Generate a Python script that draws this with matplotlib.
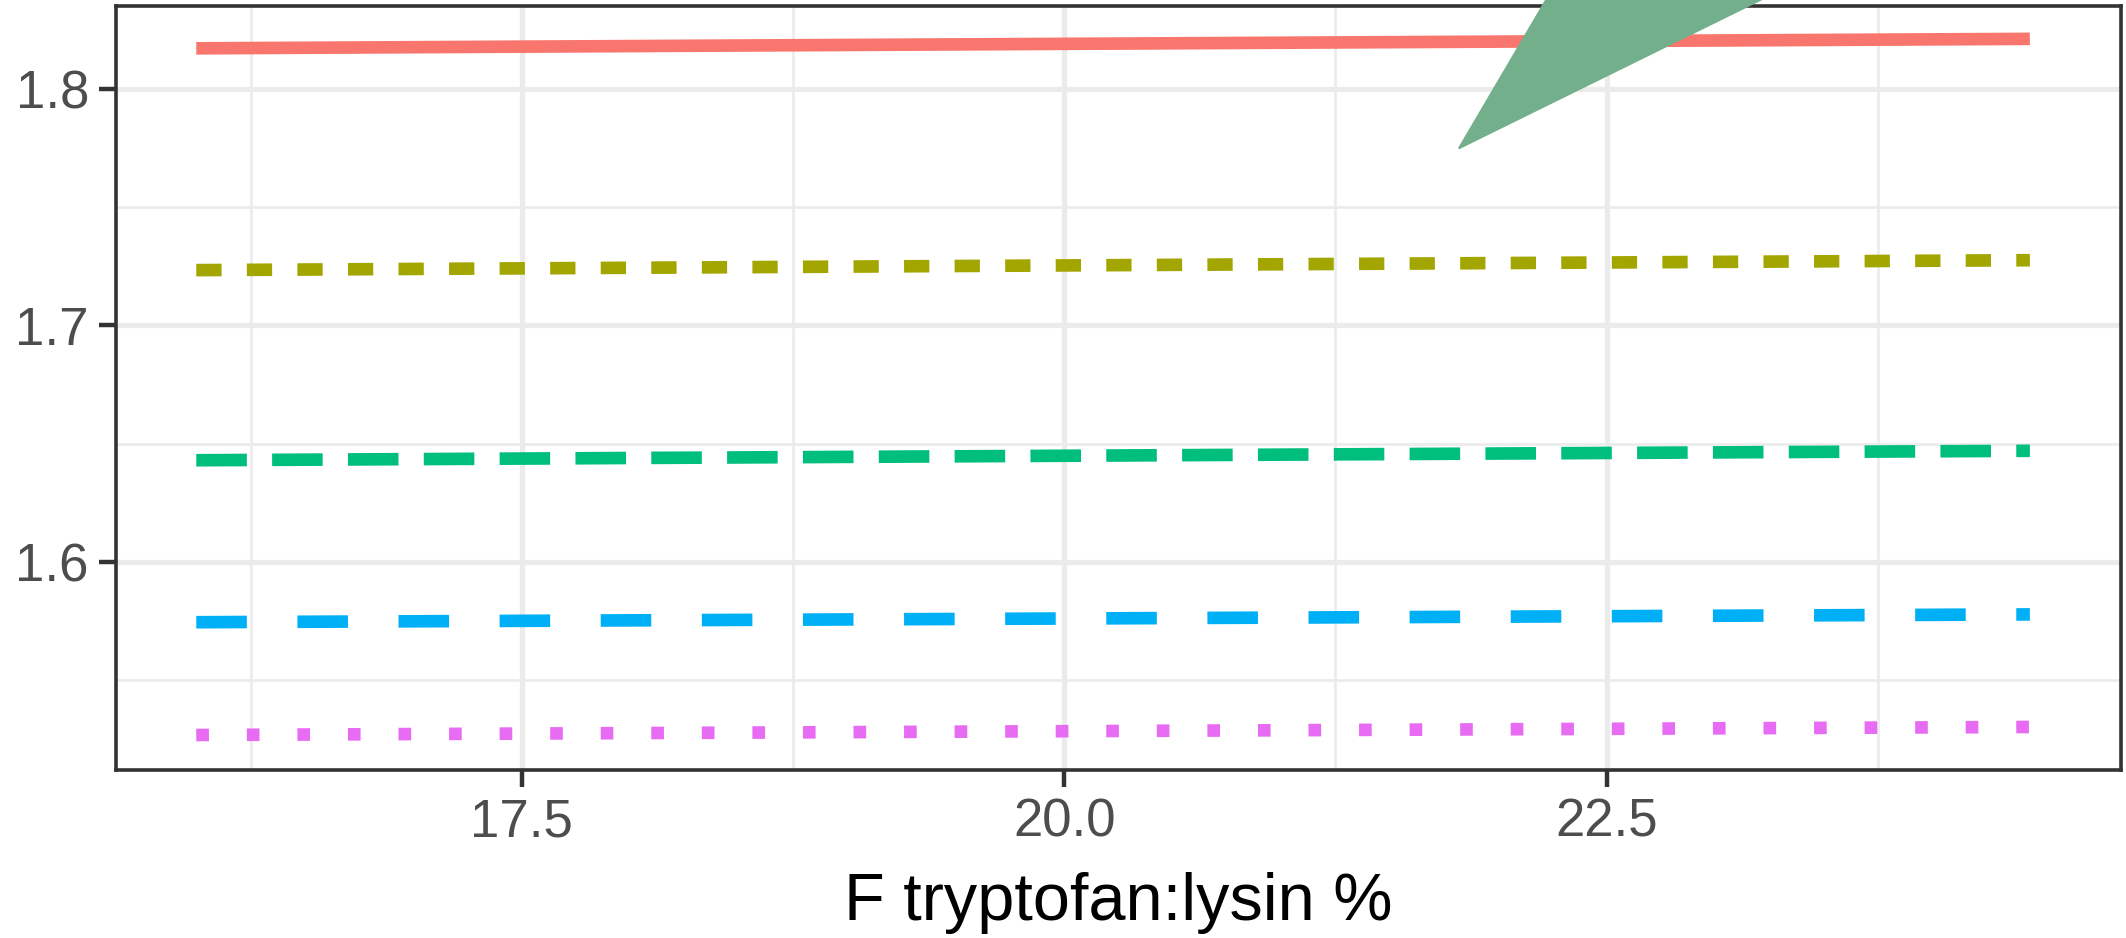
import numpy as np
import matplotlib
matplotlib.use("Agg")
import matplotlib.pyplot as plt
from matplotlib.patches import Polygon

plt.rcParams['font.family'] = ['Liberation Sans', 'DejaVu Sans']

# x range of the fitted lines (F tryptofan:lysin %)
x_ends = [16.0, 24.45]

# one line per group, value at start and end
red_y = [1.8172, 1.8212]
olive_y = [1.7234, 1.7276]
green_y = [1.6430, 1.6470]
blue_y = [1.5745, 1.5778]
magenta_y = [1.5268, 1.5302]

colors = ['#F8766D', '#A3A500', '#00BF7D', '#00B0F6', '#E76BF3']
dashes = [None, (2, 2), (4, 2), (4, 4), (1, 3)]

# green callout wedge poking in from the top
callout_x = [21.82, 22.30, 23.48]
callout_y = [1.775, 1.850, 1.850]

xticks = [17.5, 20.0, 22.5]
xminor = [16.25, 18.75, 21.25, 23.75]
yticks = [1.6, 1.7, 1.8]
yminor = [1.55, 1.65, 1.75]

fig = plt.figure(figsize=(21.26, 9.38), dpi=100)
ax = fig.add_axes([116 / 2126, 1 - 770 / 938, (2121 - 116) / 2126, (770 - 6) / 938])

series = [red_y, olive_y, green_y, blue_y, magenta_y]
for ys, c, d in zip(series, colors, dashes):
    line, = ax.plot(x_ends, ys, color=c, lw=9.1, solid_capstyle='butt',
                    dash_capstyle='butt', zorder=3)
    if d is not None:
        line.set_dashes(d)

wedge = Polygon(list(zip(callout_x, callout_y)), closed=True, facecolor='#72AF8A',
                edgecolor='#72AF8A', lw=1.5, joinstyle='round', clip_on=False, zorder=5)
ax.add_patch(wedge)

ax.set_xlim(15.63, 24.87)
ax.set_ylim(1.512, 1.8351)

ax.set_xticks(xticks)
ax.set_xticklabels(['17.5', '20.0', '22.5'])
ax.set_xticks(xminor, minor=True)
ax.set_yticks(yticks)
ax.set_yticklabels(['1.6', '1.7', '1.8'])
ax.set_yticks(yminor, minor=True)

ax.grid(which='major', color='#EBEBEB', lw=3.8, zorder=0)
ax.grid(which='minor', color='#EBEBEB', lw=1.9, zorder=0)
ax.set_axisbelow(True)

ax.tick_params(which='major', length=12.5, width=3.2, color='#333333',
               labelsize=38, labelcolor='#4D4D4D', pad=7)
ax.tick_params(which='minor', length=0)

for s in ax.spines.values():
    s.set_color('#333333')
    s.set_linewidth(2.6)

ax.set_xlabel('F tryptofan:lysin %', fontsize=48, color='black', labelpad=18)

fig.savefig('out.png', dpi=100)
